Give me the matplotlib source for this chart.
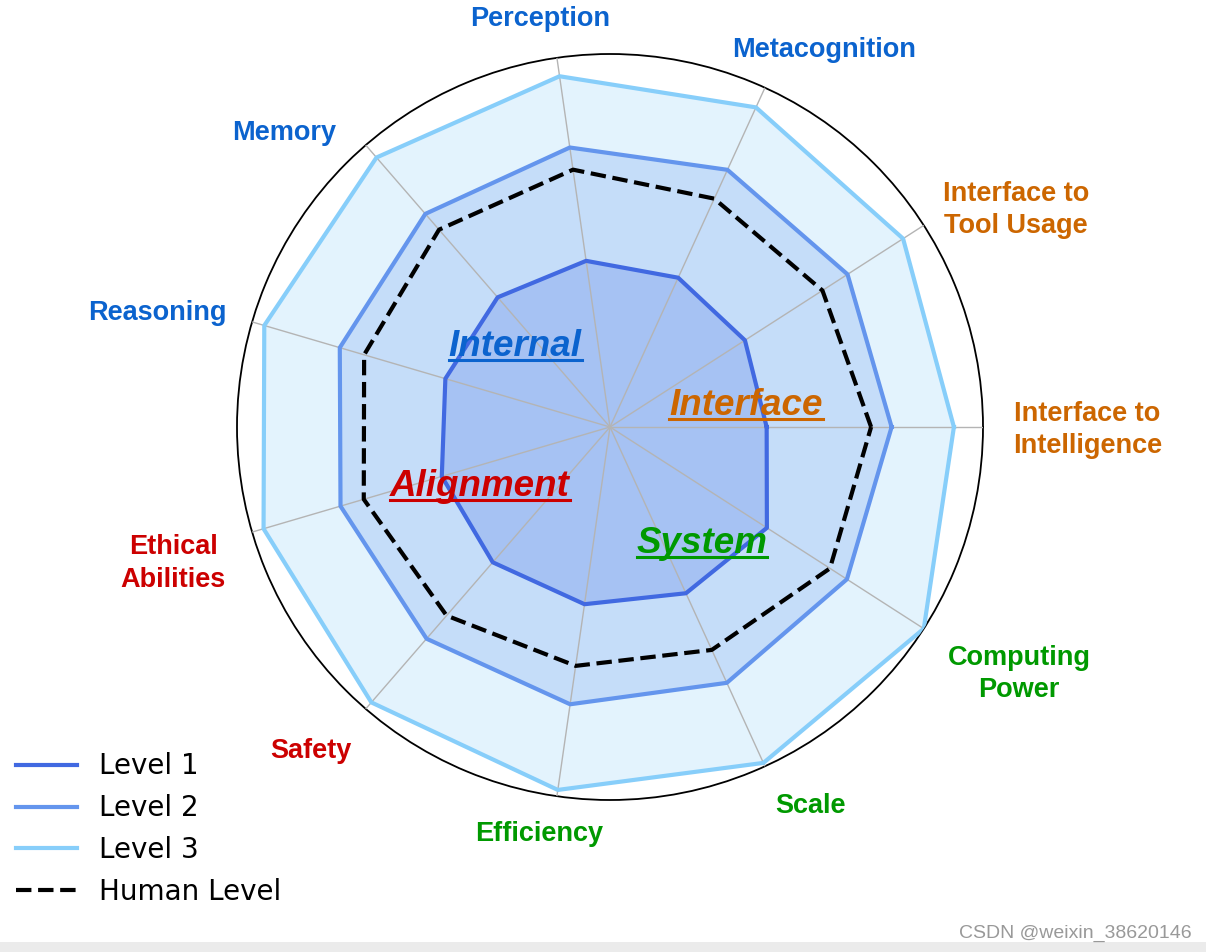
import numpy as np
import matplotlib
matplotlib.use('Agg')
import matplotlib.pyplot as plt
from matplotlib.lines import Line2D
from matplotlib.patches import Rectangle
from matplotlib.transforms import ScaledTranslation

# categories counter-clockwise starting at 3 o'clock
categories = ['Interface to\nIntelligence', 'Interface to\nTool Usage', 'Metacognition',
              'Perception', 'Memory', 'Reasoning', 'Ethical\nAbilities', 'Safety',
              'Efficiency', 'Scale', 'Computing\nPower']
groups = ['Interface', 'Interface', 'Internal', 'Internal', 'Internal', 'Internal',
          'Alignment', 'Alignment', 'System', 'System', 'System']

level1 = [0.42, 0.43, 0.44, 0.45, 0.46, 0.46, 0.47, 0.48, 0.48, 0.49, 0.50]
level2 = [0.755, 0.757, 0.758, 0.757, 0.756, 0.755, 0.753, 0.751, 0.751, 0.754, 0.755]
level3 = [0.922, 0.934, 0.942, 0.95, 0.956, 0.966, 0.968, 0.977, 0.983, 0.99, 1.0]
human = [0.70, 0.677, 0.673, 0.697, 0.70, 0.687, 0.688, 0.669, 0.647, 0.657, 0.701]

group_colors = {'Internal': '#0B63CE', 'Interface': '#CC6600',
                'System': '#009900', 'Alignment': '#CC0000'}

W, H = 1206, 952
fig = plt.figure(figsize=(W / 100, H / 100), dpi=100)
fig.patch.set_facecolor('white')

# center of the radar at (610, 427) px, radius 373 px
cx, cy, R = 610, 427, 373
ax = fig.add_axes([(cx - R) / W, (H - cy - R) / H, 2 * R / W, 2 * R / H], projection='polar')

n = len(categories)
angles = np.linspace(0, 2 * np.pi, n, endpoint=False)


def closed(vals):
    return np.append(angles, angles[0]), np.append(vals, vals[0])


series = [('Level 3', level3, '#87CEFA'),
          ('Level 2', level2, '#6495ED'),
          ('Level 1', level1, '#4169E1')]
handles = {}
for name, vals, col in series:
    t, r = closed(vals)
    ax.fill(t, r, color=col, alpha=0.23, lw=0, zorder=1)
    handles[name], = ax.plot(t, r, color=col, lw=3, zorder=3, label=name)

t, r = closed(human)
hl, = ax.plot(t, r, color='black', lw=3, ls='--', zorder=4, label='Human Level')

ax.set_ylim(0, 1)
ax.set_yticks([])
ax.set_xticks(angles)
ax.set_xticklabels([])
ax.set_axisbelow(False)
ax.xaxis.grid(True, color='#b4b4b4', lw=1, zorder=2)
ax.spines['polar'].set_color('black')
ax.spines['polar'].set_linewidth(1.3)
ax.set_facecolor('white')

# outer labels (angle in degrees, radius)
label_pos = [(0, 1.28), (28.5, 1.238), (60.6, 1.169), (99.7, 1.118), (137.7, 1.182),
             (165.5, 1.254), (197, 1.225), (227, 1.176), (260, 1.10), (298.1, 1.143),
             (329.2, 1.277)]
shift = ax.transData + ScaledTranslation(0, -3 / 100, fig.dpi_scale_trans)
for lab, grp, (deg, rr) in zip(categories, groups, label_pos):
    ax.text(np.deg2rad(deg), rr, lab, ha='center', va='center', fontsize=19.5,
            fontweight='bold', family='Liberation Sans', color=group_colors[grp],
            clip_on=False, linespacing=1.31, transform=shift)

# group names inside the chart, underlined
inner = [('Internal', 515, 356), ('Interface', 746, 415),
         ('Alignment', 480, 496), ('System', 702, 553)]
inner_txt = []
for name, px, py in inner:
    tx = fig.text(px / W, 1 - py / H, name, ha='center', va='baseline', fontsize=26.5,
                  fontweight='bold', style='italic', family='Liberation Sans',
                  color=group_colors[name], zorder=10)
    inner_txt.append(tx)

fig.canvas.draw()
renderer = fig.canvas.get_renderer()
for tx, (name, px, py) in zip(inner_txt, inner):
    bb = tx.get_window_extent(renderer)
    yb = (H - py - 4) / H
    fig.add_artist(Line2D([bb.x0 / W, bb.x1 / W], [yb, yb], transform=fig.transFigure,
                          color=group_colors[name], lw=2.2, zorder=10))

leg = fig.legend(handles=[handles['Level 1'], handles['Level 2'], handles['Level 3'], hl],
                 loc='lower left', bbox_to_anchor=(16 / W, 46 / H), frameon=False,
                 fontsize=20, handlelength=2.2, handletextpad=0.8, labelspacing=0.5,
                 borderpad=0, borderaxespad=0)

# screenshot footer
fig.patches.append(Rectangle((0, 0), 1, 10 / H, transform=fig.transFigure,
                             facecolor='#ebebeb', edgecolor='none'))
fig.text(1075 / W, 1 - 933 / H, 'CSDN @weixin_38620146', ha='center', va='center',
         fontsize=14, color='#999999', family='Liberation Sans')

fig.savefig('out.png', dpi=100, facecolor='white')
